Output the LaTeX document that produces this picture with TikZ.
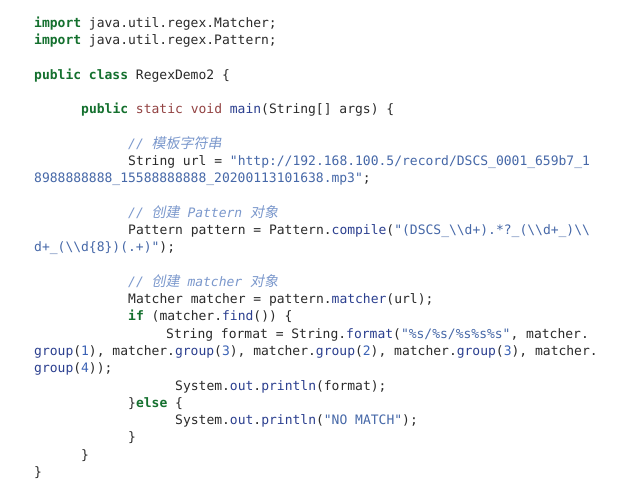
\documentclass[tikz,border=0pt]{standalone}
\usepackage{fontspec}
\usepackage{xcolor}
\setmonofont{DejaVu Sans Mono}
\newfontfamily\cjkit[FakeSlant=0.2]{Noto Sans CJK SC}

\definecolor{codegray}{HTML}{2A2A2A}
\definecolor{kwgreen}{HTML}{14702E}
\definecolor{modbrown}{HTML}{934343}
\definecolor{fnblue}{HTML}{2B3F8F}
\definecolor{strblue}{HTML}{4668A8}
\definecolor{numblue}{HTML}{3B62B5}
\definecolor{cmtblue}{HTML}{7B98CC}

\newcommand{\kw}[1]{\textcolor{kwgreen}{\bfseries #1}}
\newcommand{\md}[1]{\textcolor{modbrown}{#1}}
\newcommand{\fn}[1]{\textcolor{fnblue}{#1}}
\newcommand{\strlit}[1]{\textcolor{strblue}{#1}}
\newcommand{\numlit}[1]{\textcolor{numblue}{#1}}
\newcommand{\cmt}[1]{\textcolor{cmtblue}{\itshape #1}}
\newcommand{\zh}[1]{{\cjkit\fontsize{14}{16}\selectfont #1}}
\newcommand{\bsl}{\textbackslash}

\begin{document}
\begin{tikzpicture}[x=1pt, y=-1pt,
  font=\ttfamily\fontsize{13}{15}\selectfont,
  codeline/.style={anchor=base west, inner sep=0pt, text=codegray}]
  % Page
  \fill[white] (0,0) rectangle (640,494);
  \useasboundingbox (0,0) rectangle (640,494);

  % Imports and class header
  \node [codeline] (imp1) at (34,27.3) {\kw{import} java.util.regex.Matcher;};
  \node [codeline] (imp2) at (34,44.6) {\kw{import} java.util.regex.Pattern;};
  \node [codeline] (cls) at (34,79.1) {\kw{public} \kw{class} RegexDemo2 \{};
  \node [codeline] (mainm) at (81,113.7) {\kw{public} \md{static} \md{void} \fn{main}(String[] args) \{};

  % Template string
  \node [codeline] (cmturl) at (128,148.2) {\cmt{// \zh{模板字符串}}};
  \node [codeline] (url1) at (128,165.5) {String url = \strlit{"http://192.168.100.5/record/DSCS\_0001\_659b7\_1}};
  \node [codeline] (url2) at (34,182.7) {\strlit{8988888888\_15588888888\_20200113101638.mp3"};};

  % Pattern
  \node [codeline] (cmtpat) at (128,217.3) {\cmt{// \zh{创建} Pattern \zh{对象}}};
  \node [codeline] (pat1) at (128,234.5) {Pattern pattern = Pattern.\fn{compile}(\strlit{"(DSCS\_\bsl\bsl d+).*?\_(\bsl\bsl d+\_)\bsl\bsl}};
  \node [codeline] (pat2) at (34,251.8) {\strlit{d+\_(\bsl\bsl d\{8\})(.+)"});};

  % Matcher
  \node [codeline] (cmtmat) at (128,286.3) {\cmt{// \zh{创建} matcher \zh{对象}}};
  \node [codeline] (mat) at (128,303.6) {Matcher matcher = pattern.\fn{matcher}(url);};
  \node [codeline] (iff) at (128,320.9) {\kw{if} (matcher.\fn{find}()) \{};
  \node [codeline] (fmt1) at (166,338.2) {String format = String.\fn{format}(\strlit{"\%s/\%s/\%s\%s\%s"}, matcher.};
  \node [codeline] (fmt2) at (34,355.4) {\fn{group}(\numlit{1}), matcher.\fn{group}(\numlit{3}), matcher.\fn{group}(\numlit{2}), matcher.\fn{group}(\numlit{3}), matcher.};
  \node [codeline] (fmt3) at (34,372.7) {\fn{group}(\numlit{4}));};
  \node [codeline] (prt1) at (175,390.0) {System.\fn{out}.\fn{println}(format);};
  \node [codeline] (els) at (128,407.2) {\}\kw{else} \{};
  \node [codeline] (prt2) at (175,424.5) {System.\fn{out}.\fn{println}(\strlit{"NO MATCH"});};

  % Closing braces
  \node [codeline] (end1) at (128,441.8) {\}};
  \node [codeline] (end2) at (81,459.0) {\}};
  \node [codeline] (end3) at (34,476.3) {\}};
\end{tikzpicture}
\end{document}
